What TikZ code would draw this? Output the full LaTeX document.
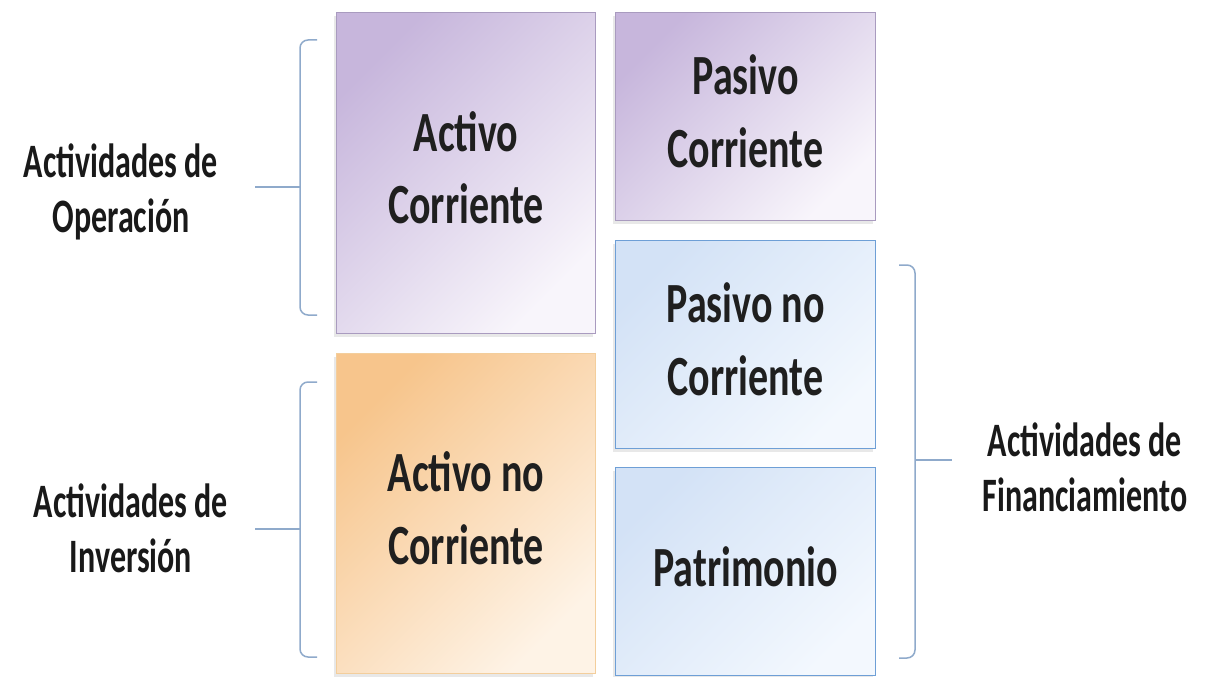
\documentclass[tikz,border=0pt]{standalone}
\usepackage{fontspec}
\setmainfont{Carlito}
\usepackage{graphicx}
\usetikzlibrary{shadows}
\definecolor{purpD}{HTML}{C7B6DC}
\definecolor{purpL}{HTML}{F8F5FB}
\definecolor{purpB}{HTML}{A99BBF}
\definecolor{orD}{HTML}{F7C58C}
\definecolor{orL}{HTML}{FEF3E6}
\definecolor{orB}{HTML}{F3CE9C}
\definecolor{blD}{HTML}{D3E2F6}
\definecolor{blL}{HTML}{F3F8FE}
\definecolor{blB}{HTML}{6E9FD6}
\definecolor{brk}{HTML}{8FAACB}
\newcommand\boxtxt[1]{{\fontsize{40}{51}\selectfont\bfseries\scalebox{1}[1.42]{\begin{tabular}{@{}c@{}}#1\end{tabular}}}}
\newcommand\lbltxt[1]{{\fontsize{32}{37}\selectfont\bfseries\scalebox{1}[1.5]{\begin{tabular}{@{}c@{}}#1\end{tabular}}}}
\tikzset{
  card/.style={draw, line width=1.2pt, inner sep=0pt, anchor=north west,
    shading=axis, shading angle=45, text=black!88,
    drop shadow={shadow xshift=-3pt, shadow yshift=-3pt, opacity=0.18}},
  purp/.style={card, draw=purpB, top color=purpD, bottom color=purpL, shading angle=45},
  oran/.style={card, draw=orB, top color=orD, bottom color=orL, shading angle=45},
  blue/.style={card, draw=blB, top color=blD, bottom color=blL, shading angle=45},
  lbl/.style={inner sep=0pt, text=black!90},
  brack/.style={draw=brk, line width=1.5pt, rounded corners=8pt},
  tick/.style={draw=brk, line width=1.5pt}
}
\begin{document}
\begin{tikzpicture}[x=1pt,y=-1pt]
\useasboundingbox (0,0) rectangle (1213,677);
\fill[white] (0,0) rectangle (1213,677);
% boxes
\node[purp, minimum width=259pt, minimum height=321pt] (ac) at (336,12) {\boxtxt{Activo\\Corriente}};
\node[oran, minimum width=259pt, minimum height=320pt] (anc) at (336,353) {\boxtxt{Activo no\\Corriente}};
\node[purp, minimum width=260pt, minimum height=208pt] (pc) at (615,12) {\boxtxt{Pasivo\\Corriente}};
\node[blue, minimum width=260pt, minimum height=208pt] (pnc) at (615,240) {\boxtxt{Pasivo no\\Corriente}};
\node[blue, minimum width=260pt, minimum height=208pt] (pat) at (615,467) {\boxtxt{Patrimonio}};
% labels
\node[lbl] (op) at (121,194) {\lbltxt{Actividades de\\Operación}};
\node[lbl] (inv) at (131,534) {\lbltxt{Actividades de\\Inversión}};
\node[lbl] (fin) at (1085,473) {\lbltxt{Actividades de\\Financiamiento}};
% brackets
\draw[brack] (317,40) -- (300,40) -- (300,315) -- (317,315);
\draw[brack] (317,382) -- (300,382) -- (300,657) -- (317,657);
\draw[brack] (899,265) -- (915,265) -- (915,658) -- (899,658);
\coordinate (b1) at (300,187);
\coordinate (b2) at (300,529);
\coordinate (b3) at (915,460);
\coordinate (t1) at (255,187);
\coordinate (t2) at (255,529);
\coordinate (t3) at (952,460);
\draw[tick] (t1) -- (b1);
\draw[tick] (t2) -- (b2);
\draw[tick] (b3) -- (t3);
\end{tikzpicture}
\end{document}
